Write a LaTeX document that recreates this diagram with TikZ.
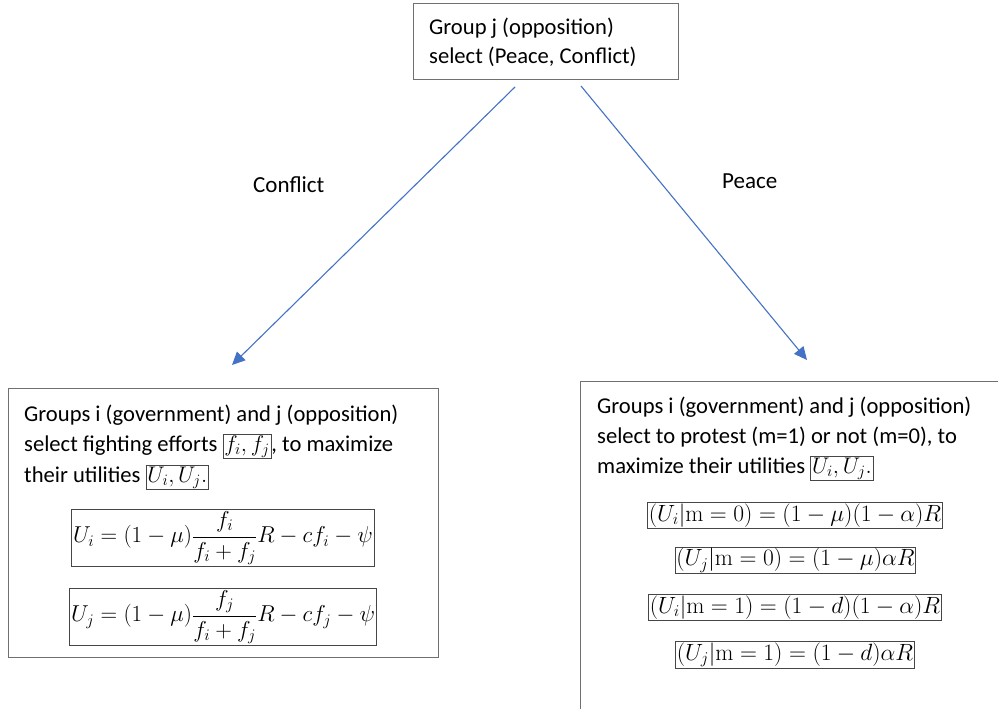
\documentclass[tikz,border=0pt]{standalone}
\usepackage{fix-cm}
\usepackage[no-math]{fontspec}
\setmainfont{Carlito}
\usetikzlibrary{arrows.meta}
\definecolor{arrowblue}{RGB}{68,114,196}
\definecolor{boxgray}{RGB}{112,112,112}
\definecolor{eqgray}{RGB}{70,70,70}
\newcommand{\ibox}[1]{{\setlength{\fboxsep}{1pt}\setlength{\fboxrule}{0.8pt}\fcolorbox{eqgray}{white}{#1}}}
\begin{document}
\begin{tikzpicture}[x=1pt,y=-1pt,
  txt/.style={anchor=base west,inner sep=0pt,font=\fontsize{22.6}{26}\selectfont},
  lbl/.style={anchor=base west,inner sep=0pt,font=\fontsize{23}{27}\selectfont},
  frame/.style={draw=boxgray,line width=1pt,inner sep=0pt},
  eqbox/.style={draw=eqgray,line width=0.8pt,inner sep=1.2pt,font=\fontsize{23.5}{27}\selectfont},
  eqboxL/.style={eqbox,font=\fontsize{23}{27}\selectfont},
  arr/.style={draw=arrowblue,line width=1.1pt,-{Triangle[length=13pt,width=12pt]}}]
\useasboundingbox[fill=white] (0,0) rectangle (998,709);
% top box
\node[frame,minimum width=265pt,minimum height=75pt] (topbox) at (545.5,41.5) {};
\node[txt] (top1) at (429,35) {Group j (opposition)};
\node[txt] (top2) at (429,63.5) {select (Peace, Conflict)};
% left box
\node[frame,minimum width=430pt,minimum height=269pt] (leftbox) at (223,522.5) {};
\node[txt] (l1) at (24,421) {Groups i (government) and j (opposition)};
\node[txt] (l2) at (24,451) {select fighting efforts \ibox{$f_i,f_j$}, to maximize};
\node[txt] (l3) at (24,482) {their utilities \ibox{$U_i,U_j.$}};
\node[eqboxL] (e1) at (223,538) {$\displaystyle U_i=(1-\mu)\frac{f_i}{f_i+f_j}R-cf_i-\psi$};
\node[eqboxL] (e2) at (223,617) {$\displaystyle U_j=(1-\mu)\frac{f_j}{f_i+f_j}R-cf_j-\psi$};
% right box (cut by the picture edge)
\draw[boxgray,line width=1pt] (580,709) |- (998,381);
\node[txt] (r1) at (597,413) {Groups i (government) and j (opposition)};
\node[txt] (r2) at (597,443) {select to protest (m=1) or not (m=0), to};
\node[txt] (r3) at (597,473) {maximize their utilities \ibox{$U_i,U_j.$}};
\node[eqbox] (e3) at (795,515.5) {$(U_i|\mathrm{m}=0)=(1-\mu)(1-\alpha)R$};
\node[eqbox] (e4) at (795.5,560.5) {$(U_j|\mathrm{m}=0)=(1-\mu)\alpha R$};
\node[eqbox] (e5) at (795,607.5) {$(U_i|\mathrm{m}=1)=(1-d)(1-\alpha)R$};
\node[eqbox] (e6) at (795,655) {$(U_j|\mathrm{m}=1)=(1-d)\alpha R$};
% arrows
\coordinate (aL) at (515,87);
\coordinate (aLend) at (232,365);
\coordinate (aR) at (581,86);
\coordinate (aRend) at (807,360);
\draw[arr] (aL) -- (aLend);
\draw[arr] (aR) -- (aRend);
\node[lbl] (conflict) at (253,192) {Conflict};
\node[lbl] (peace) at (722,188) {Peace};
\end{tikzpicture}
\end{document}
